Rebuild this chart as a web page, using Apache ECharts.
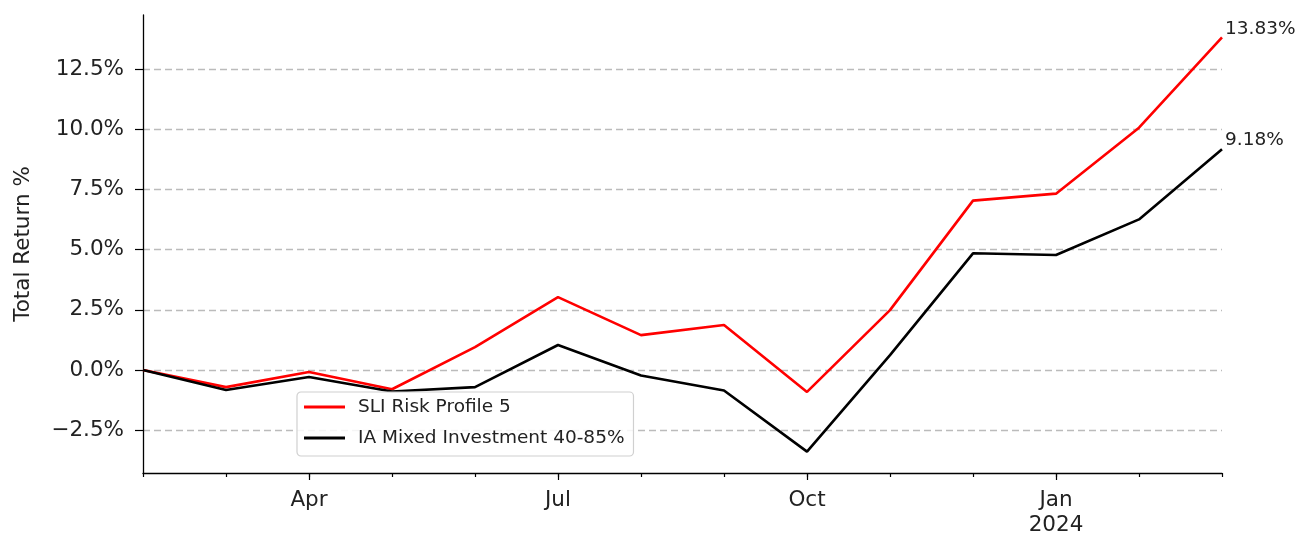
<!DOCTYPE html>
<html>
<head>
<meta charset="utf-8">
<script src="https://cdn.jsdelivr.net/npm/echarts@6/dist/echarts.min.js"></script>
<style>html,body{margin:0;padding:0;background:#fff}#c{width:1308px;height:534px}</style>
</head>
<body>
<div id="c"></div>
<script>
const months = ['2023-02','2023-03','2023-04','2023-05','2023-06','2023-07','2023-08','2023-09','2023-10','2023-11','2023-12','2024-01','2024-02','2024-03'];
const monthLabels = {'2023-04':'Apr','2023-07':'Jul','2023-10':'Oct','2024-01':'Jan\n2024'};
const sliValues = [0, -0.71, -0.08, -0.80, 0.95, 3.03, 1.45, 1.87, -0.91, 2.49, 7.04, 7.33, 10.07, 13.83];
const iaValues  = [0, -0.83, -0.29, -0.89, -0.71, 1.04, -0.23, -0.85, -3.39, 0.62, 4.85, 4.78, 6.26, 9.18];
const yTicks = [-2.5, 0, 2.5, 5, 7.5, 10, 12.5];
const seriesNames = ['SLI Risk Profile 5', 'IA Mixed Investment 40-85%'];

const font = 'DejaVu Sans';
const axisFont = 21.5;
const endLabel = {show: true, formatter: (p) => p.value.toFixed(2) + '%', fontSize: 18.5,
  color: '#222', fontFamily: font, offset: [-5, -8.5]};

const chart = echarts.init(document.getElementById('c'));
const isMajor = (i) => monthLabels[months[i]] !== undefined;
chart.setOption({
  animation: false,
  textStyle: {fontFamily: font},
  grid: {left: 143, right: 86, top: 15, bottom: 61, containLabel: false, outerBoundsMode: 'none'},
  legend: {
    data: seriesNames,
    orient: 'vertical',
    left: 297, top: 392,
    padding: [5, 9, 8, 7],
    icon: 'rect',
    itemWidth: 41, itemHeight: 3, itemGap: 11,
    backgroundColor: 'rgba(255,255,255,0.85)',
    borderColor: '#d0d0d0', borderWidth: 1.2, borderRadius: 4,
    textStyle: {fontFamily: font, fontSize: 18.5, lineHeight: 20, color: '#222', padding: [0,0,0,8]}
  },
  xAxis: [{
    type: 'category', data: months, boundaryGap: false,
    axisLine: {onZero: false, lineStyle: {color: '#000', width: 1.3}},
    axisTick: {show: true, interval: 0, length: 4, lineStyle: {color: '#000', width: 1.2}},
    axisLabel: {show: true, interval: 0, margin: 15, fontSize: axisFont, color: '#222', lineHeight: 25,
      formatter: (v) => monthLabels[v] || ''},
    splitLine: {show: false}
  }, {
    type: 'category', data: months, boundaryGap: false, position: 'bottom',
    axisLine: {show: false, onZero: false},
    axisTick: {show: true, interval: (i) => isMajor(i), length: 7, lineStyle: {color: '#000', width: 1.2}},
    axisLabel: {show: false},
    splitLine: {show: false}
  }],
  yAxis: {
    type: 'value', min: -4.28, max: 14.755,
    axisLine: {show: true, lineStyle: {color: '#000', width: 1.3}},
    axisTick: {show: true, length: 8, lineStyle: {color: '#000', width: 1.2},
      customValues: yTicks},
    axisLabel: {fontSize: axisFont, color: '#222', margin: 19, customValues: yTicks,
      formatter: (v) => (v < 0 ? '\u2212' + Math.abs(v).toFixed(1) : v.toFixed(1)) + '%'},
    splitLine: {show: true, lineStyle: {color: '#bbbbbb', type: [7, 4], width: 1.3},
      customValues: yTicks},
    name: 'Total Return %', nameLocation: 'middle', nameGap: 109,
    nameTextStyle: {fontSize: axisFont, color: '#222', fontFamily: font}
  },
  series: [{
    name: seriesNames[0], type: 'line', data: sliValues, symbol: 'none',
    lineStyle: {color: '#ff0000', width: 2.6}, itemStyle: {color: '#ff0000'},
    endLabel: endLabel,
    z: 2
  }, {
    name: seriesNames[1], type: 'line', data: iaValues, symbol: 'none',
    lineStyle: {color: '#000000', width: 2.6}, itemStyle: {color: '#000000'},
    endLabel: endLabel,
    z: 3
  }]
});
</script>
</body>
</html>
